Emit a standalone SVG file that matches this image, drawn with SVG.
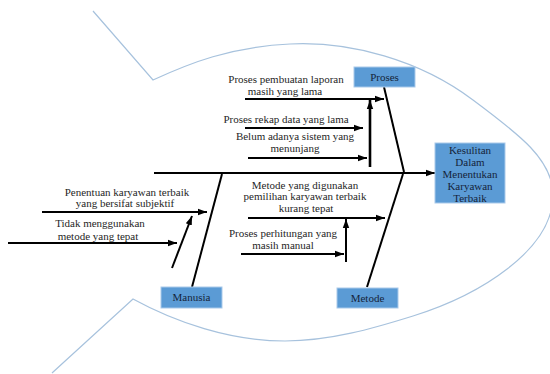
<svg xmlns="http://www.w3.org/2000/svg" width="550" height="374" viewBox="0 0 550 374">
<defs>
<style>
.fish{fill:none;stroke:#a7c2dd;stroke-width:1.2}
.box{fill:#5b9bd5;stroke:#a9c9ea;stroke-width:1}
.bt{font-family:"Liberation Serif",serif;font-size:11px;fill:#15243a;text-anchor:middle}
.t{font-family:"Liberation Serif",serif;font-size:11px;fill:#262626;text-anchor:middle}
.ln{stroke:#000;stroke-width:2;fill:none}
.ar{stroke:#000;stroke-width:2;fill:none;marker-end:url(#ah)}
.va{stroke:#000;stroke-width:2.6;fill:none;marker-end:url(#ah)}
</style>
<marker id="ah" markerUnits="userSpaceOnUse" markerWidth="10" markerHeight="8" refX="9" refY="4" orient="auto">
<path d="M0,0.8 L9,4 L0,7.2 Z" fill="#000"/>
</marker>
</defs>
<path class="fish" d="M93,11 L153,80 C190,63 230,47 290,44 C350,41 420,60 473,100 C520,135 553,160 553,195 C553,250 480,295 413,316 C373,328.5 330,341 285,341 C230,341 175,322 133,299 L52,373"/>
<g id="connectors">
<line class="ar" x1="154" y1="173" x2="435" y2="173"/>
<line class="ln" x1="384" y1="87" x2="404" y2="172"/>
<line class="ln" x1="192" y1="287" x2="222" y2="174"/>
<line class="ln" x1="367" y1="287" x2="403" y2="174"/>
<line class="ar" x1="245" y1="99" x2="384" y2="99"/>
<line class="va" x1="370" y1="167" x2="370" y2="100"/>
<line class="ar" x1="245" y1="128" x2="363" y2="128"/>
<line class="ar" x1="248" y1="158" x2="367" y2="158"/>
<line class="ar" x1="42" y1="212" x2="207" y2="212"/>
<line class="ar" x1="8" y1="243" x2="177" y2="243"/>
<line class="ar" x1="172" y1="268" x2="192" y2="216"/>
<line class="ar" x1="248" y1="218" x2="385" y2="218"/>
<line class="ar" x1="241" y1="254" x2="344" y2="254"/>
<line class="ar" x1="346" y1="262" x2="346" y2="219"/>
</g>
<g id="effect">
<rect class="box" x="435" y="143" width="70" height="60"/>
<text class="bt" x="470" y="154">Kesulitan</text>
<text class="bt" x="470" y="166">Dalam</text>
<text class="bt" x="470" y="178">Menentukan</text>
<text class="bt" x="470" y="190">Karyawan</text>
<text class="bt" x="470" y="202">Terbaik</text>
</g>
<g id="proses">
<rect class="box" x="354" y="67" width="61" height="20"/>
<text class="bt" x="384.5" y="80.5">Proses</text>
</g>
<g id="manusia">
<rect class="box" x="161" y="287" width="61" height="21"/>
<text class="bt" x="191.5" y="301">Manusia</text>
</g>
<g id="metode">
<rect class="box" x="337" y="288" width="61" height="20"/>
<text class="bt" x="367.5" y="301.5">Metode</text>
</g>
<g id="cause-proses-1">
<text class="t" x="286" y="83">Proses pembuatan laporan</text>
<text class="t" x="285" y="95">masih yang lama</text>
</g>
<g id="cause-proses-2">
<text class="t" x="286" y="123">Proses rekap data yang lama</text>
</g>
<g id="cause-proses-3">
<text class="t" x="295" y="140">Belum adanya sistem yang</text>
<text class="t" x="295" y="152">menunjang</text>
</g>
<g id="cause-manusia-1">
<text class="t" x="127" y="196">Penentuan karyawan terbaik</text>
<text class="t" x="125" y="207">yang bersifat subjektif</text>
</g>
<g id="cause-manusia-2">
<text class="t" x="100" y="227">Tidak menggunakan</text>
<text class="t" x="98" y="240">metode yang tepat</text>
</g>
<g id="cause-metode-1">
<text class="t" x="305" y="189">Metode yang digunakan</text>
<text class="t" x="305" y="200">pemilihan karyawan terbaik</text>
<text class="t" x="306" y="212">kurang tepat</text>
</g>
<g id="cause-metode-2">
<text class="t" x="283" y="237">Proses perhitungan yang</text>
<text class="t" x="283" y="249">masih manual</text>
</g>
</svg>
